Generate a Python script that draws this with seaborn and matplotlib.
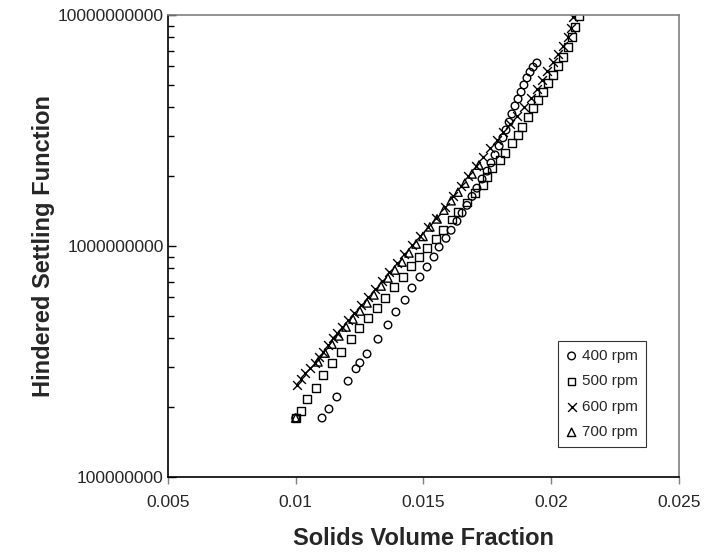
import numpy as np
import pandas as pd
import seaborn as sns
import matplotlib.pyplot as plt
from matplotlib.ticker import FixedLocator, LogLocator, NullFormatter, FuncFormatter

# solids volume fraction / hindered settling function
phi_400 = [0.0100, 0.01103, 0.01130, 0.01161, 0.01205, 0.01236, 0.01251, 0.01279, 0.01322,
           0.01361, 0.01392, 0.01428, 0.01455, 0.01486, 0.01514, 0.01541, 0.01561, 0.01588,
           0.01608, 0.01631, 0.01651, 0.01670, 0.01690, 0.01709, 0.01729, 0.01749, 0.01764,
           0.01780, 0.01796, 0.01811, 0.01823, 0.01835, 0.01846, 0.01858, 0.01870, 0.01882,
           0.01893, 0.01905, 0.01917, 0.01929, 0.01944]
hsf_400 = [1.80e8, 1.80e8, 1.97e8, 2.22e8, 2.60e8, 2.94e8, 3.12e8, 3.41e8, 3.95e8,
           4.55e8, 5.18e8, 5.83e8, 6.58e8, 7.34e8, 8.11e8, 8.96e8, 9.90e8, 1.08e9,
           1.17e9, 1.28e9, 1.39e9, 1.50e9, 1.64e9, 1.78e9, 1.95e9, 2.11e9, 2.29e9,
           2.48e9, 2.71e9, 2.94e9, 3.18e9, 3.44e9, 3.73e9, 4.04e9, 4.33e9, 4.64e9,
           4.98e9, 5.34e9, 5.66e9, 5.95e9, 6.20e9]

phi_500 = [0.0100, 0.01021, 0.01044, 0.01079, 0.01107, 0.01142, 0.01177, 0.01216, 0.01248,
           0.01283, 0.01318, 0.01349, 0.01385, 0.01420, 0.01451, 0.01482, 0.01514, 0.01549,
           0.01576, 0.01612, 0.01635, 0.01670, 0.01702, 0.01733, 0.01749, 0.01768, 0.01799,
           0.01819, 0.01846, 0.01870, 0.01886, 0.01909, 0.01929, 0.01948, 0.01968, 0.01987,
           0.02007, 0.02026, 0.02046, 0.02066, 0.02081, 0.02093, 0.02109]
hsf_500 = [1.80e8, 1.93e8, 2.18e8, 2.43e8, 2.76e8, 3.12e8, 3.48e8, 3.96e8, 4.42e8,
           4.88e8, 5.39e8, 5.96e8, 6.65e8, 7.34e8, 8.19e8, 8.96e8, 9.80e8, 1.07e9,
           1.17e9, 1.30e9, 1.40e9, 1.54e9, 1.70e9, 1.84e9, 1.99e9, 2.18e9, 2.36e9,
           2.53e9, 2.79e9, 3.02e9, 3.27e9, 3.62e9, 3.96e9, 4.29e9, 4.64e9, 5.08e9,
           5.50e9, 6.01e9, 6.58e9, 7.27e9, 8.03e9, 8.87e9, 9.90e9]

phi_600 = [0.01005, 0.01021, 0.01036, 0.01056, 0.01075, 0.01091, 0.01107, 0.01126, 0.01146,
           0.01161, 0.01181, 0.01205, 0.01228, 0.01255, 0.01283, 0.01310, 0.01338, 0.01365,
           0.01396, 0.01424, 0.01455, 0.01486, 0.01518, 0.01549, 0.01584, 0.01615, 0.01647,
           0.01674, 0.01705, 0.01733, 0.01760, 0.01788, 0.01811, 0.01839, 0.01866, 0.01893,
           0.01921, 0.01944, 0.01964, 0.01983, 0.02007, 0.02026, 0.02046, 0.02066, 0.02077,
           0.02085]
hsf_600 = [2.50e8, 2.66e8, 2.82e8, 2.96e8, 3.12e8, 3.31e8, 3.48e8, 3.73e8, 4.00e8,
           4.20e8, 4.46e8, 4.78e8, 5.13e8, 5.55e8, 6.02e8, 6.52e8, 7.06e8, 7.72e8,
           8.44e8, 9.23e8, 1.01e9, 1.10e9, 1.21e9, 1.32e9, 1.48e9, 1.65e9, 1.82e9,
           2.01e9, 2.22e9, 2.43e9, 2.66e9, 2.88e9, 3.12e9, 3.37e9, 3.65e9, 4.00e9,
           4.37e9, 4.78e9, 5.23e9, 5.72e9, 6.26e9, 6.78e9, 7.34e9, 8.03e9, 8.80e9,
           9.80e9]

phi_700 = [0.0100, 0.01087, 0.01115, 0.01142, 0.01169, 0.01197, 0.01224, 0.01251, 0.01279,
           0.01306, 0.01334, 0.01361, 0.01388, 0.01416, 0.01443, 0.01471, 0.01498, 0.01525,
           0.01553, 0.01580, 0.01608, 0.01635, 0.01662, 0.01690, 0.01717]
hsf_700 = [1.80e8, 3.15e8, 3.44e8, 3.76e8, 4.08e8, 4.46e8, 4.83e8, 5.23e8, 5.67e8,
           6.14e8, 6.71e8, 7.27e8, 7.87e8, 8.52e8, 9.33e8, 1.02e9, 1.10e9, 1.21e9,
           1.31e9, 1.43e9, 1.57e9, 1.71e9, 1.87e9, 2.05e9, 2.24e9]

speeds = ["400 rpm", "500 rpm", "600 rpm", "700 rpm"]

df = pd.concat([
    pd.DataFrame({"phi": phi_400, "hsf": hsf_400, "speed": speeds[0]}),
    pd.DataFrame({"phi": phi_500, "hsf": hsf_500, "speed": speeds[1]}),
    pd.DataFrame({"phi": phi_600, "hsf": hsf_600, "speed": speeds[2]}),
    pd.DataFrame({"phi": phi_700, "hsf": hsf_700, "speed": speeds[3]}),
])

sns.set_style("ticks")
plt.rcParams['font.family'] = ['Liberation Sans', 'DejaVu Sans']

fig = plt.figure(figsize=(7.04, 5.56), dpi=100)
ax = fig.add_axes([0.2386, 0.1421, 0.7259, 0.8309])

markers = {"400 rpm": "o", "500 rpm": "s", "600 rpm": "x", "700 rpm": "^"}
sizes = {"400 rpm": 30, "500 rpm": 30, "600 rpm": 40, "700 rpm": 36}
for sp in speeds:
    sub = df[df["speed"] == sp]
    if markers[sp] == "x":
        sns.scatterplot(data=sub, x="phi", y="hsf", marker="x", color="black",
                        s=sizes[sp], linewidth=1.0, label=sp, ax=ax)
    else:
        sns.scatterplot(data=sub, x="phi", y="hsf", marker=markers[sp], facecolors="none",
                        edgecolor="black", s=sizes[sp], linewidth=1.0, label=sp, ax=ax)

ax.set_yscale("log")
ax.set_xlim(0.005, 0.025)
ax.set_ylim(1e8, 1e10)
ax.xaxis.set_major_locator(FixedLocator([0.005, 0.01, 0.015, 0.02, 0.025]))
ax.xaxis.set_major_formatter(FuncFormatter(lambda v, p: ("%g" % v)))
ax.yaxis.set_major_locator(FixedLocator([1e8, 1e9, 1e10]))
ax.yaxis.set_major_formatter(FuncFormatter(lambda v, p: "%d" % round(v)))
ax.yaxis.set_minor_locator(LogLocator(base=10, subs=np.arange(2, 10)))
ax.yaxis.set_minor_formatter(NullFormatter())
ax.xaxis.set_minor_locator(FixedLocator([]))

ax.tick_params(axis="x", which="major", direction="out", length=5, width=1,
               color="#808080", labelsize=12.5, pad=8, bottom=True, top=False)
ax.tick_params(axis="y", which="both", direction="in", left=True, right=False,
               color="black", width=1)
ax.tick_params(axis="y", which="major", length=6, labelsize=12.5, pad=3)
ax.tick_params(axis="y", which="minor", length=4)

for side in ["left", "bottom"]:
    ax.spines[side].set_color("black")
    ax.spines[side].set_linewidth(1.2)
for side in ["top", "right"]:
    ax.spines[side].set_visible(True)
    ax.spines[side].set_color("#808080")
    ax.spines[side].set_linewidth(1.2)

ax.set_xlabel("Solids Volume Fraction", fontsize=17, fontweight="bold", labelpad=12)
ax.set_ylabel("Hindered Settling Function", fontsize=17, fontweight="bold", labelpad=2)

leg = ax.legend(loc="lower right", bbox_to_anchor=(0.935, 0.065), frameon=True, fancybox=False,
                fontsize=11, handlelength=0.8, handletextpad=0.3, labelspacing=0.75,
                borderpad=0.5, borderaxespad=0)
leg.get_frame().set_edgecolor("black")
leg.get_frame().set_linewidth(0.8)

fig.savefig("out.png", dpi=100)
